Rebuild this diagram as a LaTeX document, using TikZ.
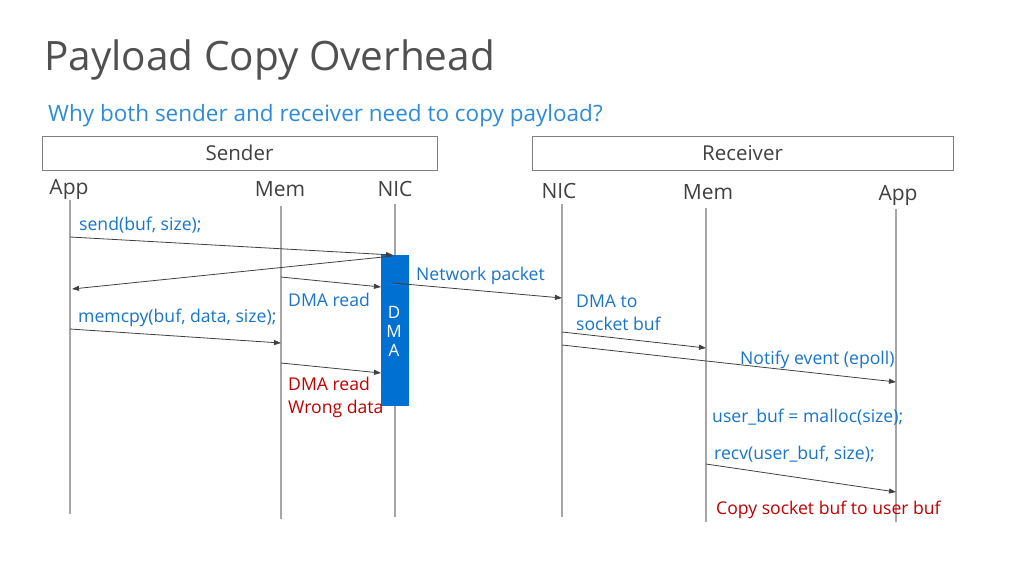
\documentclass[tikz,border=0pt]{standalone}
\usepackage{fontspec}
\setmainfont{Open Sans}
\usetikzlibrary{arrows.meta}
\definecolor{titlegray}{HTML}{505050}
\definecolor{hdrgray}{HTML}{404040}
\definecolor{subblue}{HTML}{2E8BD8}
\definecolor{lblue}{HTML}{1874C8}
\definecolor{lred}{HTML}{C00000}
\definecolor{dmablue}{HTML}{0071D2}
\definecolor{lifegray}{HTML}{A6A6A6}
\definecolor{arrgray}{HTML}{404040}
\definecolor{boxgray}{HTML}{7F7F7F}
\tikzset{
  titlestyle/.style={font=\fontsize{40.5}{48}\selectfont, text=titlegray, anchor=base west, inner sep=0},
  substyle/.style={font=\fontsize{22.5}{26}\selectfont, text=subblue, anchor=base west, inner sep=0},
  groupbox/.style={draw=boxgray, line width=0.8pt, minimum height=34pt, inner sep=0, font=\fontsize{20.5}{24}\selectfont, text=hdrgray},
  hdr/.style={font=\fontsize{21}{24}\selectfont, text=hdrgray, anchor=base, inner sep=0},
  lbl/.style={font=\fontsize{17.6}{23}\selectfont, text=lblue, anchor=base west, inner sep=0, align=left},
  rlbl/.style={lbl, text=lred},
  lifeline/.style={draw=lifegray, line width=1.2pt},
  msg/.style={draw=arrgray, line width=0.8pt, -{Triangle[length=7pt,width=5pt]}},
  dmabar/.style={fill=dmablue, draw=none, minimum width=28pt, minimum height=151pt, inner sep=0},
}
\begin{document}
\begin{tikzpicture}[x=1pt,y=-1pt]
\useasboundingbox (0,0) rectangle (1024,576);
% title
\node[titlestyle] (title) at (44,70) {Payload Copy Overhead};
\node[substyle] (sub) at (48,121) {Why both sender and receiver need to copy payload?};
% groups
\node[groupbox, minimum width=395pt] (sender) at (239.5,153) {Sender};
\node[groupbox, minimum width=421pt] (receiver) at (742.5,153) {Receiver};
% headers
\node[hdr] (hApp) at (69,194) {App};
\node[hdr] (hMem) at (280,196) {Mem};
\node[hdr] (hNIC) at (395,196) {NIC};
\node[hdr] (hNICr) at (559,198) {NIC};
\node[hdr] (hMemr) at (708,199) {Mem};
\node[hdr] (hAppr) at (898,200) {App};
% lifelines
\coordinate (appT) at (70,200);  \coordinate (appB) at (70,514);
\coordinate (memT) at (281,206); \coordinate (memB) at (281,519);
\coordinate (nicT) at (395,204); \coordinate (nicB) at (395,517);
\coordinate (nicrT) at (562,204); \coordinate (nicrB) at (562,517);
\coordinate (memrT) at (706,208); \coordinate (memrB) at (706,522);
\coordinate (apprT) at (896,209); \coordinate (apprB) at (896,522);
\draw[lifeline] (appT) -- (appB);
\draw[lifeline] (memT) -- (memB);
\draw[lifeline] (nicT) -- (nicB);
\draw[lifeline] (nicrT) -- (nicrB);
\draw[lifeline] (memrT) -- (memrB);
\draw[lifeline] (apprT) -- (apprB);
% DMA bar
\node[dmabar] (dma) at (395,330.5) {};
\node[font=\fontsize{17}{20}\selectfont, text=white, inner sep=0, align=center] (dmatxt) at (394,331) {D\\[-1pt]M\\[-1pt]A};
% message end points
\coordinate (m1a) at (70,237);  \coordinate (m1b) at (393,255);
\coordinate (m2a) at (393,256); \coordinate (m2b) at (72,289);
\coordinate (m3a) at (281,277); \coordinate (m3b) at (381,287);
\coordinate (m4a) at (393,283); \coordinate (m4b) at (562,298);
\coordinate (m5a) at (70,329);  \coordinate (m5b) at (281,343);
\coordinate (m6a) at (281,363); \coordinate (m6b) at (381,373);
\coordinate (m7a) at (562,332); \coordinate (m7b) at (706,348);
\coordinate (m8a) at (562,345); \coordinate (m8b) at (896,382);
\coordinate (m9a) at (706,464); \coordinate (m9b) at (896,492);
\draw[msg] (m1a) -- (m1b);
\draw[msg] (m2a) -- (m2b);
\draw[msg] (m3a) -- (m3b);
\draw[msg] (m4a) -- (m4b);
\draw[msg] (m5a) -- (m5b);
\draw[msg] (m6a) -- (m6b);
\draw[msg] (m7a) -- (m7b);
\draw[msg] (m8a) -- (m8b);
\draw[msg] (m9a) -- (m9b);
% labels
\node[lbl] (l1) at (79,230) {send(buf, size);};
\node[lbl] (l2) at (416,280) {Network packet};
\node[lbl] (l3) at (288,306) {DMA read};
\node[lbl] (l4) at (78,322) {memcpy(buf, data, size);};
\node[lbl] (l5) at (576,330) {DMA to\\socket buf};
\node[rlbl] (l6) at (288,413) {DMA read\\Wrong data};
\node[lbl] (l7) at (740,364) {Notify event (epoll)};
\node[lbl] (l8) at (712,422) {user\_buf = malloc(size);};
\node[lbl] (l9) at (714,459) {recv(user\_buf, size);};
\node[rlbl] (l10) at (716,514) {Copy socket buf to user buf};
\end{tikzpicture}
\end{document}
